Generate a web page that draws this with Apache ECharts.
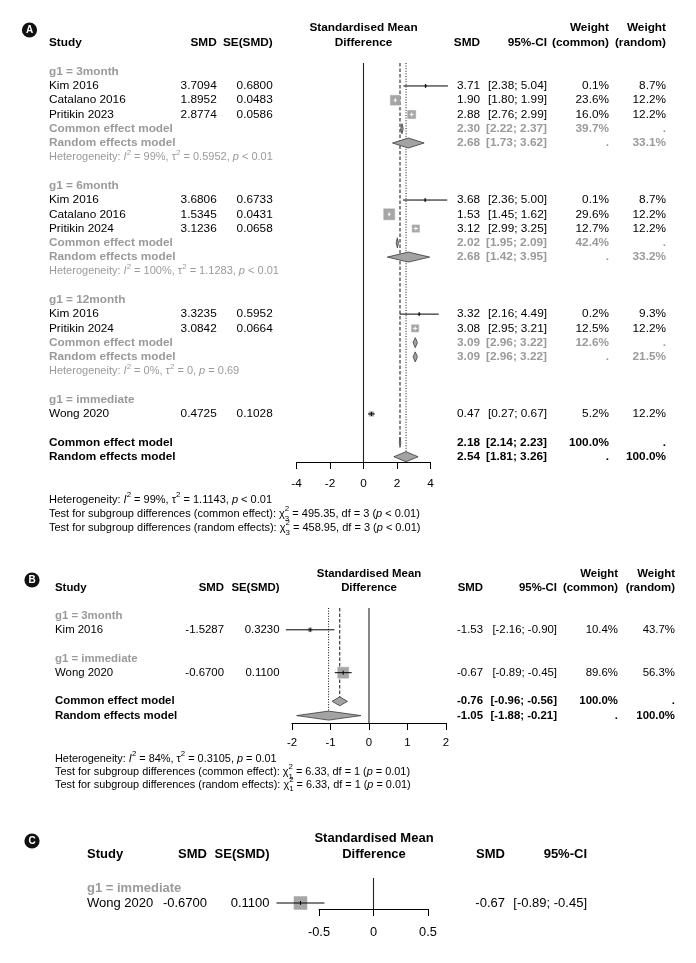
<!DOCTYPE html>
<html><head><meta charset="utf-8">
<script src="https://cdn.jsdelivr.net/npm/echarts@6/dist/echarts.min.js"></script>
<style>html,body{margin:0;padding:0;background:#fff}#main{width:696px;height:963px}</style>
</head><body><div id="main"></div>
<script>
// ================= DATA =================
// ---- Panel A ----
const groupsA = ['3month', '6month', '12month', 'immediate'];
const studyA = ['Kim 2016', 'Catalano 2016', 'Pritikin 2023', 'Kim 2016', 'Catalano 2016', 'Pritikin 2024', 'Kim 2016', 'Pritikin 2024', 'Wong 2020'];
const studyGroupA = ['3month', '3month', '3month', '6month', '6month', '6month', '12month', '12month', 'immediate'];
const smdA = [3.7094, 1.8952, 2.8774, 3.6806, 1.5345, 3.1236, 3.3235, 3.0842, 0.4725];
const seA = [0.6800, 0.0483, 0.0586, 0.6733, 0.0431, 0.0658, 0.5952, 0.0664, 0.1028];
const estA = [3.71, 1.90, 2.88, 3.68, 1.53, 3.12, 3.32, 3.08, 0.47];
const lowA = [2.38, 1.80, 2.76, 2.36, 1.45, 2.99, 2.16, 2.95, 0.27];
const highA = [5.04, 1.99, 2.99, 5.00, 1.62, 3.25, 4.49, 3.21, 0.67];
const wCommonA = [0.1, 23.6, 16.0, 0.1, 29.6, 12.7, 0.2, 12.5, 5.2];
const wRandomA = [8.7, 12.2, 12.2, 8.7, 12.2, 12.2, 9.3, 12.2, 12.2];
const subNamesA = ['3month', '6month', '12month'];
const subCommonEstA = [2.30, 2.02, 3.09];
const subCommonLowA = [2.22, 1.95, 2.96];
const subCommonHighA = [2.37, 2.09, 3.22];
const subCommonWA = [39.7, 42.4, 12.6];
const subRandomEstA = [2.68, 2.68, 3.09];
const subRandomLowA = [1.73, 1.42, 2.96];
const subRandomHighA = [3.62, 3.95, 3.22];
const subRandomWA = [33.1, 33.2, 21.5];
const subI2A = ['99%', '100%', '0%'];
const subTau2A = ['0.5952', '1.1283', '0'];
const subPA = ['< 0.01', '< 0.01', '= 0.69'];
const overallEstA = [2.18, 2.54];      // common, random
const overallLowA = [2.14, 1.81];
const overallHighA = [2.23, 3.26];
const hetA = ['99%', '1.1143', '< 0.01'];
const testChiA = [495.35, 458.95];
const testDfA = 3;
const testPA = ['< 0.01', '< 0.01'];
const ticksA = [-4, -2, 0, 2, 4];

// ---- Panel B ----
const groupsB = ['3month', 'immediate'];
const studyB = ['Kim 2016', 'Wong 2020'];
const studyGroupB = ['3month', 'immediate'];
const smdB = [-1.5287, -0.6700];
const seB = [0.3230, 0.1100];
const estB = [-1.53, -0.67];
const lowB = [-2.16, -0.89];
const highB = [-0.90, -0.45];
const wCommonB = [10.4, 89.6];
const wRandomB = [43.7, 56.3];
const overallEstB = [-0.76, -1.05];
const overallLowB = [-0.96, -1.88];
const overallHighB = [-0.56, -0.21];
const hetB = ['84%', '0.3105', '= 0.01'];
const testChiB = [6.33, 6.33];
const testDfB = 1;
const testPB = ['= 0.01', '= 0.01'];
const ticksB = [-2, -1, 0, 1, 2];

// ---- Panel C ----
const groupsC = ['immediate'];
const studyC = ['Wong 2020'];
const studyGroupC = ['immediate'];
const smdC = [-0.6700];
const seC = [0.1100];
const estC = [-0.67];
const lowC = [-0.89];
const highC = [-0.45];
const wCommonC = [100];
const ticksC = [-0.5, 0, 0.5];

// ================= STYLE / LAYOUT =================
const FF = '"Liberation Sans", Arial, Helvetica, sans-serif';
const BLACK = '#000';
const GRAY = '#9a9a9a';
const SQ = '#a6a6a6';
const DIA_FILL = '#a3a3a3';
const DIA_STROKE = '#3a3a3a';

const LA = { badge: 'A', badgeXY: [29.5, 30], grid: { left: 296.5, top: 63, width: 134, height: 399 },
  row0: 71.7, step: 14.26, font: 11.8, small: 11, colStudy: 49, colSmd: 216.7, colSe: 272.7,
  colEst: 480, colCi: 547, colWc: 609, colWr: 666, center: 363.5, head1Y: 28, head2Y: 43,
  footY: [500, 514, 528], maxSide: 11, diaH: 5, tickFs: 11.8, margin: 16 };
const LB = { badge: 'B', badgeXY: [32, 580], grid: { left: 292, top: 608, width: 154, height: 115 },
  row0: 615.5, step: 14.3, font: 11.4, small: 10.9, colStudy: 55, colSmd: 224, colSe: 279.5,
  colEst: 483, colCi: 557, colWc: 618, colWr: 675, center: 369, head1Y: 574, head2Y: 588,
  footY: [759, 772, 784.5], maxSide: 11, diaH: 4.5, tickFs: 11.4, margin: 14 };
const LC = { badge: 'C', badgeXY: [32, 841], grid: { left: 319, top: 878, width: 109, height: 31 },
  row0: 888, step: 15, font: 13, small: 11, colStudy: 87, colSmd: 207, colSe: 269.5,
  colEst: 505, colCi: 587, center: 374, head1Y: 838, head2Y: 854,
  footY: [], maxSide: 13, diaH: 5, tickFs: 12.8, margin: 17 };

const specA = { groups: groupsA, studies: studyA, studyGroup: studyGroupA, smd: smdA, se: seA, est: estA,
  low: lowA, high: highA, wCommon: wCommonA, wRandom: wRandomA, weights: true,
  subNames: subNamesA, subCE: [subCommonEstA, subCommonLowA, subCommonHighA, subCommonWA],
  subRE: [subRandomEstA, subRandomLowA, subRandomHighA, subRandomWA], subHet: [subI2A, subTau2A, subPA],
  overallEst: overallEstA, overallLow: overallLowA, overallHigh: overallHighA,
  het: hetA, chi: testChiA, df: testDfA, testP: testPA, ticks: ticksA };
const specB = { groups: groupsB, studies: studyB, studyGroup: studyGroupB, smd: smdB, se: seB, est: estB,
  low: lowB, high: highB, wCommon: wCommonB, wRandom: wRandomB, weights: true,
  subNames: [], overallEst: overallEstB, overallLow: overallLowB, overallHigh: overallHighB,
  het: hetB, chi: testChiB, df: testDfB, testP: testPB, ticks: ticksB };
const specC = { groups: groupsC, studies: studyC, studyGroup: studyGroupC, smd: smdC, se: seC, est: estC,
  low: lowC, high: highC, wCommon: wCommonC, weights: false, subNames: [], ticks: ticksC };

// ================= HELPERS =================
function yToRow(L, y) { return (y - L.row0) / L.step; }
function T(text, x, y, align, font, fill, extra) {
  const st = { text: text, x: x, y: y, align: align, textAlign: align, verticalAlign: 'middle',
    textVerticalAlign: 'middle', font: font, fill: fill };
  if (extra) Object.assign(st, extra);
  return { type: 'text', silent: true, style: st };
}
function richSet(fs, fill) {
  const lh = fs * 1.6, ss = +(fs * 0.72).toFixed(2);
  return {
    it: { font: 'italic ' + fs + 'px ' + FF, fill: fill, lineHeight: lh },
    sup: { font: ss + 'px ' + FF, fill: fill, verticalAlign: 'top', lineHeight: lh },
    sup0: { font: ss + 'px ' + FF, fill: fill, verticalAlign: 'top', lineHeight: lh, width: 0 },
    sub: { font: ss + 'px ' + FF, fill: fill, verticalAlign: 'bottom', lineHeight: lh }
  };
}
function hetText(i2, tau2, p) {
  return 'Heterogeneity: {it|I}{sup|2} = ' + i2 + ', \u03c4{sup|2} = ' + tau2 + ', {it|p} ' + p;
}
function testText(kind, chi, df, p) {
  return 'Test for subgroup differences (' + kind + '): \u03c7{sup0|2}{sub|' + df + '} = ' + chi.toFixed(2) +
    ', df = ' + df + ' ({it|p} ' + p + ')';
}
function ci(lo, hi) { return '[' + lo.toFixed(2) + '; ' + hi.toFixed(2) + ']'; }
function pct(w) { return w.toFixed(1) + '%'; }

function buildItems(spec, L) {
  const items = [];
  items.push({ kind: 'ref', row: 0 });
  items.push({ kind: 'badge', row: yToRow(L, L.badgeXY[1]) });
  items.push({ kind: 'head1', row: yToRow(L, L.head1Y) });
  items.push({ kind: 'head2', row: yToRow(L, L.head2Y) });
  let r = 0;
  spec.groups.forEach(function (g) {
    items.push({ kind: 'group', row: r++, name: g });
    spec.studyGroup.forEach(function (sg, i) { if (sg === g) items.push({ kind: 'study', row: r++, i: i }); });
    const k = spec.subNames.indexOf(g);
    if (k >= 0) {
      items.push({ kind: 'subCommon', row: r++, k: k });
      items.push({ kind: 'subRandom', row: r++, k: k });
      items.push({ kind: 'subHet', row: r++, k: k });
    }
    r++;
  });
  if (spec.overallEst) {
    spec.commonRow = r; items.push({ kind: 'common', row: r++ });
    spec.randomRow = r; items.push({ kind: 'random', row: r++ });
    L.footY.forEach(function (fy, j) { items.push({ kind: 'foot', row: yToRow(L, fy), j: j }); });
  }
  return items;
}

function makeRender(spec, L, items) {
  const fReg = L.font + 'px ' + FF;
  const fBold = 'bold ' + fReg;
  const fSmall = L.small + 'px ' + FF;
  const yMin = yToRow(L, L.grid.top), yMax = yToRow(L, L.grid.top + L.grid.height);
  const wmax = Math.max.apply(null, spec.wCommon);
  return function (params, api) {
    const it = items[params.dataIndex];
    const y = api.coord([0, it.row])[1];
    const X = function (v) { return api.coord([v, it.row])[0]; };
    const Y = function (r) { return api.coord([0, r])[1]; };
    const ch = [];
    function diamond(est, lo, hi) {
      ch.push({ type: 'polygon', silent: true, shape: { points: [[X(lo), y], [X(est), y - L.diaH], [X(hi), y], [X(est), y + L.diaH]] },
        style: { fill: DIA_FILL, stroke: DIA_STROKE, lineWidth: 0.8 } });
    }
    function summary(label, est, lo, hi, wc, wr, color) {
      ch.push(T(label, L.colStudy, y, 'left', fBold, color));
      ch.push(T(est.toFixed(2), L.colEst, y, 'right', fBold, color));
      ch.push(T(ci(lo, hi), L.colCi, y, 'right', fBold, color));
      if (spec.weights) {
        ch.push(T(wc, L.colWc, y, 'right', fBold, color));
        ch.push(T(wr, L.colWr, y, 'right', fBold, color));
      }
      diamond(est, lo, hi);
    }
    switch (it.kind) {
      case 'ref': {
        ch.push({ type: 'line', silent: true, shape: { x1: X(0), y1: Y(yMin), x2: X(0), y2: Y(yMax) },
          style: { stroke: '#222', lineWidth: 1.1 } });
        if (spec.overallEst) {
          const xc = X(spec.overallEst[0]), xr = X(spec.overallEst[1]);
          ch.push({ type: 'line', silent: true, shape: { x1: xc, y1: Y(yMin), x2: xc, y2: Y(spec.commonRow) },
            style: { stroke: '#111', lineWidth: 1, lineDash: [3.5, 2] } });
          ch.push({ type: 'line', silent: true, shape: { x1: xr, y1: Y(yMin), x2: xr, y2: Y(spec.randomRow) },
            style: { stroke: '#111', lineWidth: 1, lineDash: [1, 1.6] } });
        }
        break;
      }
      case 'badge': {
        ch.push({ type: 'circle', silent: true, shape: { cx: L.badgeXY[0], cy: y, r: 7.6 }, style: { fill: '#111' } });
        ch.push(T(L.badge, L.badgeXY[0], y + 0.3, 'center', 'bold 10px ' + FF, '#fff'));
        break;
      }
      case 'head1': {
        ch.push(T('Standardised Mean', L.center, y, 'center', fBold, BLACK));
        if (spec.weights) {
          ch.push(T('Weight', L.colWc, y, 'right', fBold, BLACK));
          ch.push(T('Weight', L.colWr, y, 'right', fBold, BLACK));
        }
        break;
      }
      case 'head2': {
        ch.push(T('Study', L.colStudy, y, 'left', fBold, BLACK));
        ch.push(T('SMD', L.colSmd, y, 'right', fBold, BLACK));
        ch.push(T('SE(SMD)', L.colSe, y, 'right', fBold, BLACK));
        ch.push(T('Difference', L.center, y, 'center', fBold, BLACK));
        ch.push(T('SMD', L.colEst, y, 'right', fBold, BLACK));
        ch.push(T('95%-CI', L.colCi, y, 'right', fBold, BLACK));
        if (spec.weights) {
          ch.push(T('(common)', L.colWc, y, 'right', fBold, BLACK));
          ch.push(T('(random)', L.colWr, y, 'right', fBold, BLACK));
        }
        break;
      }
      case 'group': {
        ch.push(T('g1 = ' + it.name, L.colStudy, y, 'left', fBold, GRAY));
        break;
      }
      case 'study': {
        const i = it.i;
        ch.push(T(spec.studies[i], L.colStudy, y, 'left', fReg, BLACK));
        ch.push(T(spec.smd[i].toFixed(4), L.colSmd, y, 'right', fReg, BLACK));
        ch.push(T(spec.se[i].toFixed(4), L.colSe, y, 'right', fReg, BLACK));
        ch.push(T(spec.est[i].toFixed(2), L.colEst, y, 'right', fReg, BLACK));
        ch.push(T(ci(spec.low[i], spec.high[i]), L.colCi, y, 'right', fReg, BLACK));
        if (spec.weights) {
          ch.push(T(pct(spec.wCommon[i]), L.colWc, y, 'right', fReg, BLACK));
          ch.push(T(pct(spec.wRandom[i]), L.colWr, y, 'right', fReg, BLACK));
        }
        const lo = X(spec.low[i]), hi = X(spec.high[i]), xc = X(spec.smd[i]);
        const side = Math.max(2, L.maxSide * Math.sqrt(spec.wCommon[i] / wmax));
        ch.push({ type: 'rect', silent: true, shape: { x: xc - side / 2, y: y - side / 2, width: side, height: side },
          style: { fill: SQ, stroke: SQ, lineWidth: 0.5 } });
        const lc = (hi - lo) < side ? '#fff' : '#000';
        ch.push({ type: 'line', silent: true, shape: { x1: lo, y1: y, x2: hi, y2: y }, style: { stroke: lc, lineWidth: 1 } });
        ch.push({ type: 'line', silent: true, shape: { x1: xc, y1: y - 2, x2: xc, y2: y + 2 }, style: { stroke: lc, lineWidth: 1 } });
        break;
      }
      case 'subCommon': {
        const s = spec.subCE, k = it.k;
        summary('Common effect model', s[0][k], s[1][k], s[2][k], pct(s[3][k]), '.', GRAY);
        break;
      }
      case 'subRandom': {
        const s = spec.subRE, k = it.k;
        summary('Random effects model', s[0][k], s[1][k], s[2][k], '.', pct(s[3][k]), GRAY);
        break;
      }
      case 'subHet': {
        const h = spec.subHet, k = it.k;
        ch.push(T(hetText(h[0][k], h[1][k], h[2][k]), L.colStudy, y, 'left', fSmall, GRAY,
          { rich: richSet(L.small, GRAY), lineHeight: L.small * 1.6 }));
        break;
      }
      case 'common': {
        summary('Common effect model', spec.overallEst[0], spec.overallLow[0], spec.overallHigh[0], '100.0%', '.', BLACK);
        break;
      }
      case 'random': {
        summary('Random effects model', spec.overallEst[1], spec.overallLow[1], spec.overallHigh[1], '.', '100.0%', BLACK);
        break;
      }
      case 'foot': {
        let s;
        if (it.j === 0) s = hetText(spec.het[0], spec.het[1], spec.het[2]);
        else if (it.j === 1) s = testText('common effect', spec.chi[0], spec.df, spec.testP[0]);
        else s = testText('random effects', spec.chi[1], spec.df, spec.testP[1]);
        ch.push(T(s, L.colStudy, y, 'left', fSmall, BLACK, { rich: richSet(L.small, BLACK), lineHeight: L.small * 1.6 }));
        break;
      }
    }
    return { type: 'group', children: ch };
  };
}

function xAxisFor(ticks, gi, L) {
  return { type: 'value', gridIndex: gi, min: ticks[0], max: ticks[ticks.length - 1], interval: ticks[1] - ticks[0],
    axisLine: { show: true, onZero: false, lineStyle: { color: '#000', width: 1 } },
    axisTick: { show: true, length: 7, lineStyle: { color: '#000', width: 1 } },
    axisLabel: { show: true, color: '#000', fontSize: L.tickFs, fontFamily: FF, margin: L.margin,
      showMinLabel: true, showMaxLabel: true, formatter: function (v) { return String(v); } },
    splitLine: { show: false } };
}
function yAxisFor(gi, L) {
  return { type: 'value', gridIndex: gi, inverse: true, show: false,
    min: yToRow(L, L.grid.top), max: yToRow(L, L.grid.top + L.grid.height),
    splitLine: { show: false } };
}
function seriesFor(spec, L, gi) {
  const items = buildItems(spec, L);
  return { type: 'custom', coordinateSystem: 'cartesian2d', xAxisIndex: gi, yAxisIndex: gi, clip: false, silent: true,
    data: items.map(function (it) { return [0, it.row]; }), renderItem: makeRender(spec, L, items) };
}

const panels = [[specA, LA], [specB, LB], [specC, LC]];
const option = {
  backgroundColor: '#fff', animation: false, tooltip: { show: false },
  grid: panels.map(function (p) { return Object.assign({ outerBoundsMode: 'none', containLabel: false }, p[1].grid); }),
  xAxis: panels.map(function (p, i) { return xAxisFor(p[0].ticks, i, p[1]); }),
  yAxis: panels.map(function (p, i) { return yAxisFor(i, p[1]); }),
  series: panels.map(function (p, i) { return seriesFor(p[0], p[1], i); })
};
const chart = echarts.init(document.getElementById('main'), null, { renderer: 'canvas' });
chart.setOption(option);
</script></body></html>
